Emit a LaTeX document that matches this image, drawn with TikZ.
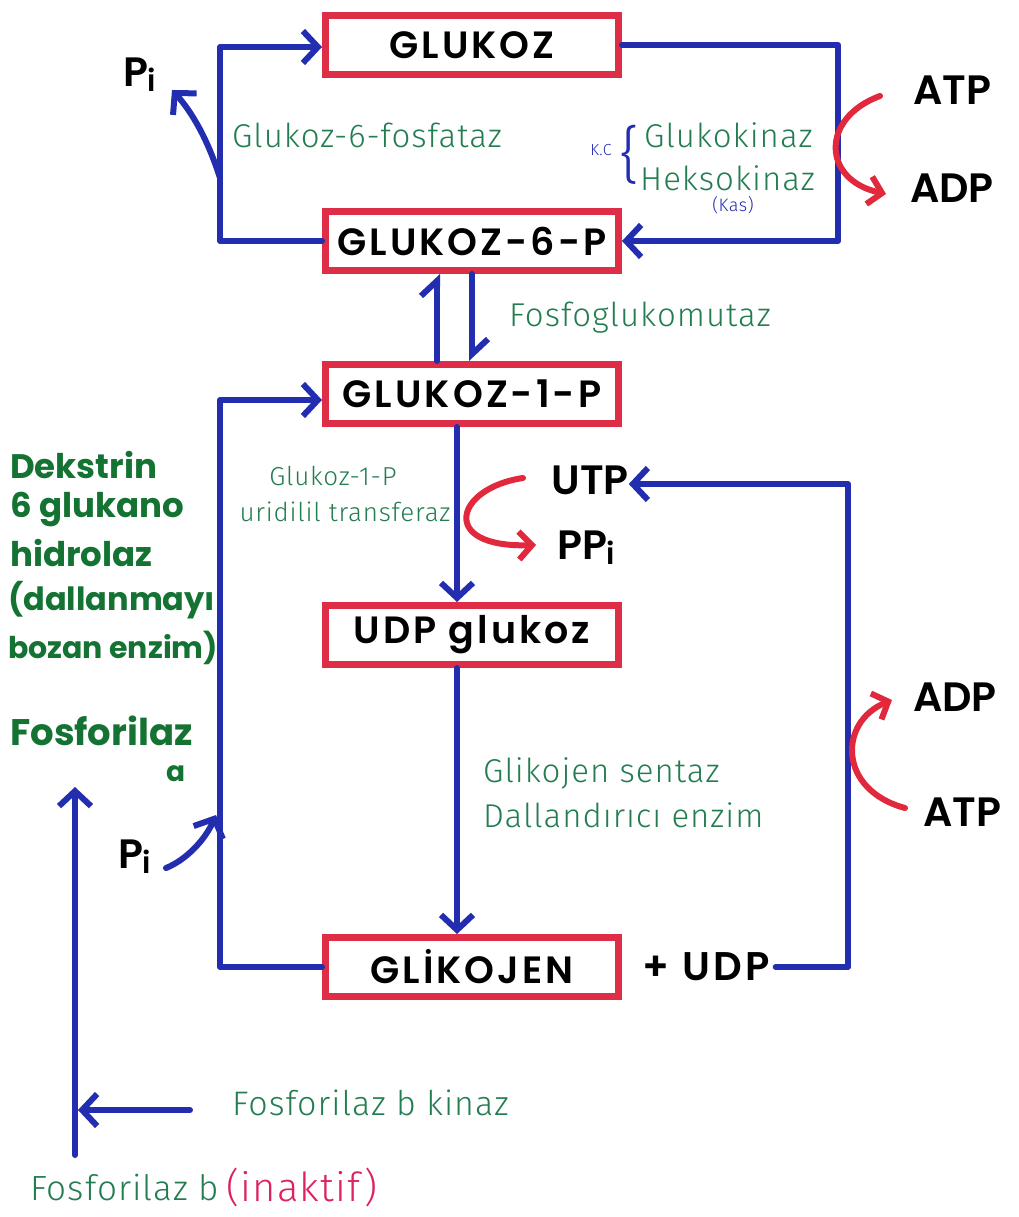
\documentclass[tikz,border=0pt]{standalone}
\usepackage{fontspec}
\usetikzlibrary{arrows.meta}
\setmainfont{Poppins}
\newfontfamily\capfont[LetterSpace=8]{Poppins SemiBold}
\newfontfamily\chemfont{Poppins SemiBold}
\newfontfamily\handfont[LetterSpace=3]{Fira Sans Light}
\definecolor{boxred}{RGB}{222,45,70}
\definecolor{lineblue}{RGB}{35,45,175}
\definecolor{enzgreen}{RGB}{35,125,80}
\definecolor{darkgreen}{RGB}{20,115,50}
\definecolor{curvered}{RGB}{225,40,60}
\definecolor{pinkred}{RGB}{220,35,95}
\tikzset{
  metab/.style={draw=boxred, line width=7pt, minimum width=293pt, minimum height=59pt,
    inner sep=0pt, font=\capfont\fontsize{38}{38}\selectfont},
  chem/.style={inner sep=0pt, font=\chemfont\fontsize{41}{41}\selectfont},
  enz/.style={inner sep=0pt, text=enzgreen, font=\handfont\fontsize{33}{33}\selectfont},
  enzsmall/.style={inner sep=0pt, text=enzgreen, font=\handfont\fontsize{26}{26}\selectfont},
  marker/.style={inner sep=0pt, anchor=west, text=darkgreen, font=\bfseries\fontsize{34}{34}\selectfont},
  flow/.style={draw=lineblue, line width=6pt, line cap=round, line join=round,
    -{Straight Barb[length=15pt, width=32pt]}},
  harp/.style={draw=lineblue, line width=6pt, line cap=round,
    -{Straight Barb[length=15pt, width=32pt, harpoon]}},
  cofac/.style={draw=curvered, line width=6pt, line cap=round,
    -{Straight Barb[length=13pt, width=28pt]}},
}
\newcommand{\subi}{\kern-1pt\raisebox{-5pt}{\fontsize{30}{30}\selectfont i}}
\begin{document}
\begin{tikzpicture}[x=1pt, y=-1pt]
\useasboundingbox (0,0) rectangle (1019,1217);

% metabolite boxes
\node[metab] (glc)  at (472,45)  {GLUKOZ};
\node[metab] (g6p)  at (472,241) {GLUKOZ-6-P};
\node[metab] (g1p)  at (472,394) {GLUKOZ-1-P};
\node[metab] (udpg) at (472,635) {UDP glukoz};
\node[metab] (gly)  at (472,967) {GLİKOJEN};

% cofactors and side products
\node[chem] (pitop) at (140,75)  {P\subi};
\node[chem] (atp1)  at (952,90)  {ATP};
\node[chem] (adp1)  at (952,188) {ADP};
\node[chem] (utp)   at (590,480) {UTP};
\node[chem] (ppi)   at (586,548) {PP\subi};
\node[chem] (adp2)  at (955,697) {ADP};
\node[chem] (atp2)  at (962,812) {ATP};
\node[chem] (pilow) at (135,857) {P\subi};
\node[chem, font=\capfont\fontsize{40}{40}\selectfont] (udp) at (706,967) {+ UDP};

% enzyme names
\node[enz] (g6pase) at (367,135) {Glukoz-6-fosfataz};
\node[enz, anchor=west] (gk)  at (644,135) {Glukokinaz};
\node[enz, anchor=west] (hk)  at (640,178) {Heksokinaz};
\node[inner sep=0pt, text=lineblue, font=\handfont\fontsize{16}{16}\selectfont] (kc) at (601,150) {K.C};
\node[inner sep=0pt, text=lineblue, font=\handfont\fontsize{62}{62}\selectfont] (brace) at (630,155) {\{};
\node[inner sep=0pt, text=lineblue, font=\handfont\fontsize{18}{18}\selectfont] (kas) at (733,205) {(Kas)};
\node[enz] (pgm) at (640,318) {Fosfoglukomutaz};
\node[enzsmall] (ugp1) at (333,476) {Glukoz-1-P};
\node[enzsmall] (ugp2) at (345,512) {uridilil transferaz};
\node[enz, anchor=west] (gs) at (483,773) {Glikojen sentaz};
\node[enz, anchor=west] (be) at (483,815) {Dallandırıcı enzim};
\node[enz, anchor=west, font=\handfont\fontsize{34}{34}\selectfont] (phk) at (232,1103) {Fosforilaz b kinaz};
\node[enz, anchor=west, font=\handfont\fontsize{35}{35}\selectfont] (phb) at (30,1187) {Fosforilaz b};
\node[enz, anchor=west, text=pinkred, font=\handfont\fontsize{40}{40}\selectfont] (inak) at (phb.east) {\,(inaktif)};

% debranching enzyme and phosphorylase
\node[marker] (d1) at (10,465) {Dekstrin};
\node[marker] (d2) at (10,510) {6 glukano};
\node[marker] (d3) at (10,553) {hidrolaz};
\node[marker, font=\bfseries\fontsize{32}{32}\selectfont] (d4) at (8,600)  {(dallanmayı};
\node[marker, font=\bfseries\fontsize{30}{30}\selectfont] (d5) at (8,648)  {bozan enzim)};
\node[marker, font=\bfseries\fontsize{37}{37}\selectfont] (pa1) at (10,731) {Fosforilaz};
\node[marker, font=\bfseries\fontsize{28}{28}\selectfont] (pa2) at (166,774) {a};

% glucose <-> glucose-6-phosphate
\draw[flow] (g6p.west) -- ++(-102,0) |- ([yshift=-2pt]glc.west);
\coordinate (j1) at (220,178);
\draw[flow] (j1) .. controls (208,140) and (192,112) .. (172,90);
\draw[flow] (glc.east) -- ++(216,0) |- (g6p.east);
\coordinate (c1s) at (880,96);
\coordinate (c1e) at (886,194);
\draw[cofac] (c1s) .. controls (820,118) and (822,180) .. (c1e);

% glucose-6-phosphate <-> glucose-1-phosphate
\draw[harp] ([xshift=-35pt]g1p.north) -- ([xshift=-35pt]g6p.south);
\draw[harp] ([xshift=0pt]g6p.south) -- ([xshift=0pt]g1p.north);

% glucose-1-phosphate -> UDP-glucose -> glycogen
\draw[flow] ([xshift=-15pt]g1p.south) -- ([xshift=-15pt]udpg.north);
\coordinate (c2s) at (523,478);
\coordinate (c2e) at (536,545);
\draw[cofac] (c2s) .. controls (455,488) and (438,548) .. (c2e);
\draw[flow] ([xshift=-15pt]udpg.south) -- ([xshift=-15pt]gly.north);

% glycogen breakdown back to glucose-1-phosphate
\draw[flow] (gly.west) -- ++(-102,0) |- ([yshift=-6pt]g1p.west);
\coordinate (j2) at (216,815);
\draw[flow] (166,868) .. controls (186,860) and (205,840) .. (j2);

% UDP recycling to UTP
\coordinate (rc) at (848,970);
\draw[flow] ([xshift=6pt]udp.east) -- (udp.east -| rc) |- ([yshift=-4pt]utp.east);
\coordinate (c3s) at (905,808);
\coordinate (c3e) at (892,700);
\draw[cofac] (c3s) .. controls (838,790) and (838,722) .. (c3e);

% phosphorylase activation
\coordinate (pb) at (75,1155);
\coordinate (pa) at (75,787);
\draw[flow] (pb) -- (pa);
\coordinate (k1) at (190,1110);
\coordinate (k2) at (78,1110);
\draw[flow] (k1) -- (k2);
\end{tikzpicture}
\end{document}
